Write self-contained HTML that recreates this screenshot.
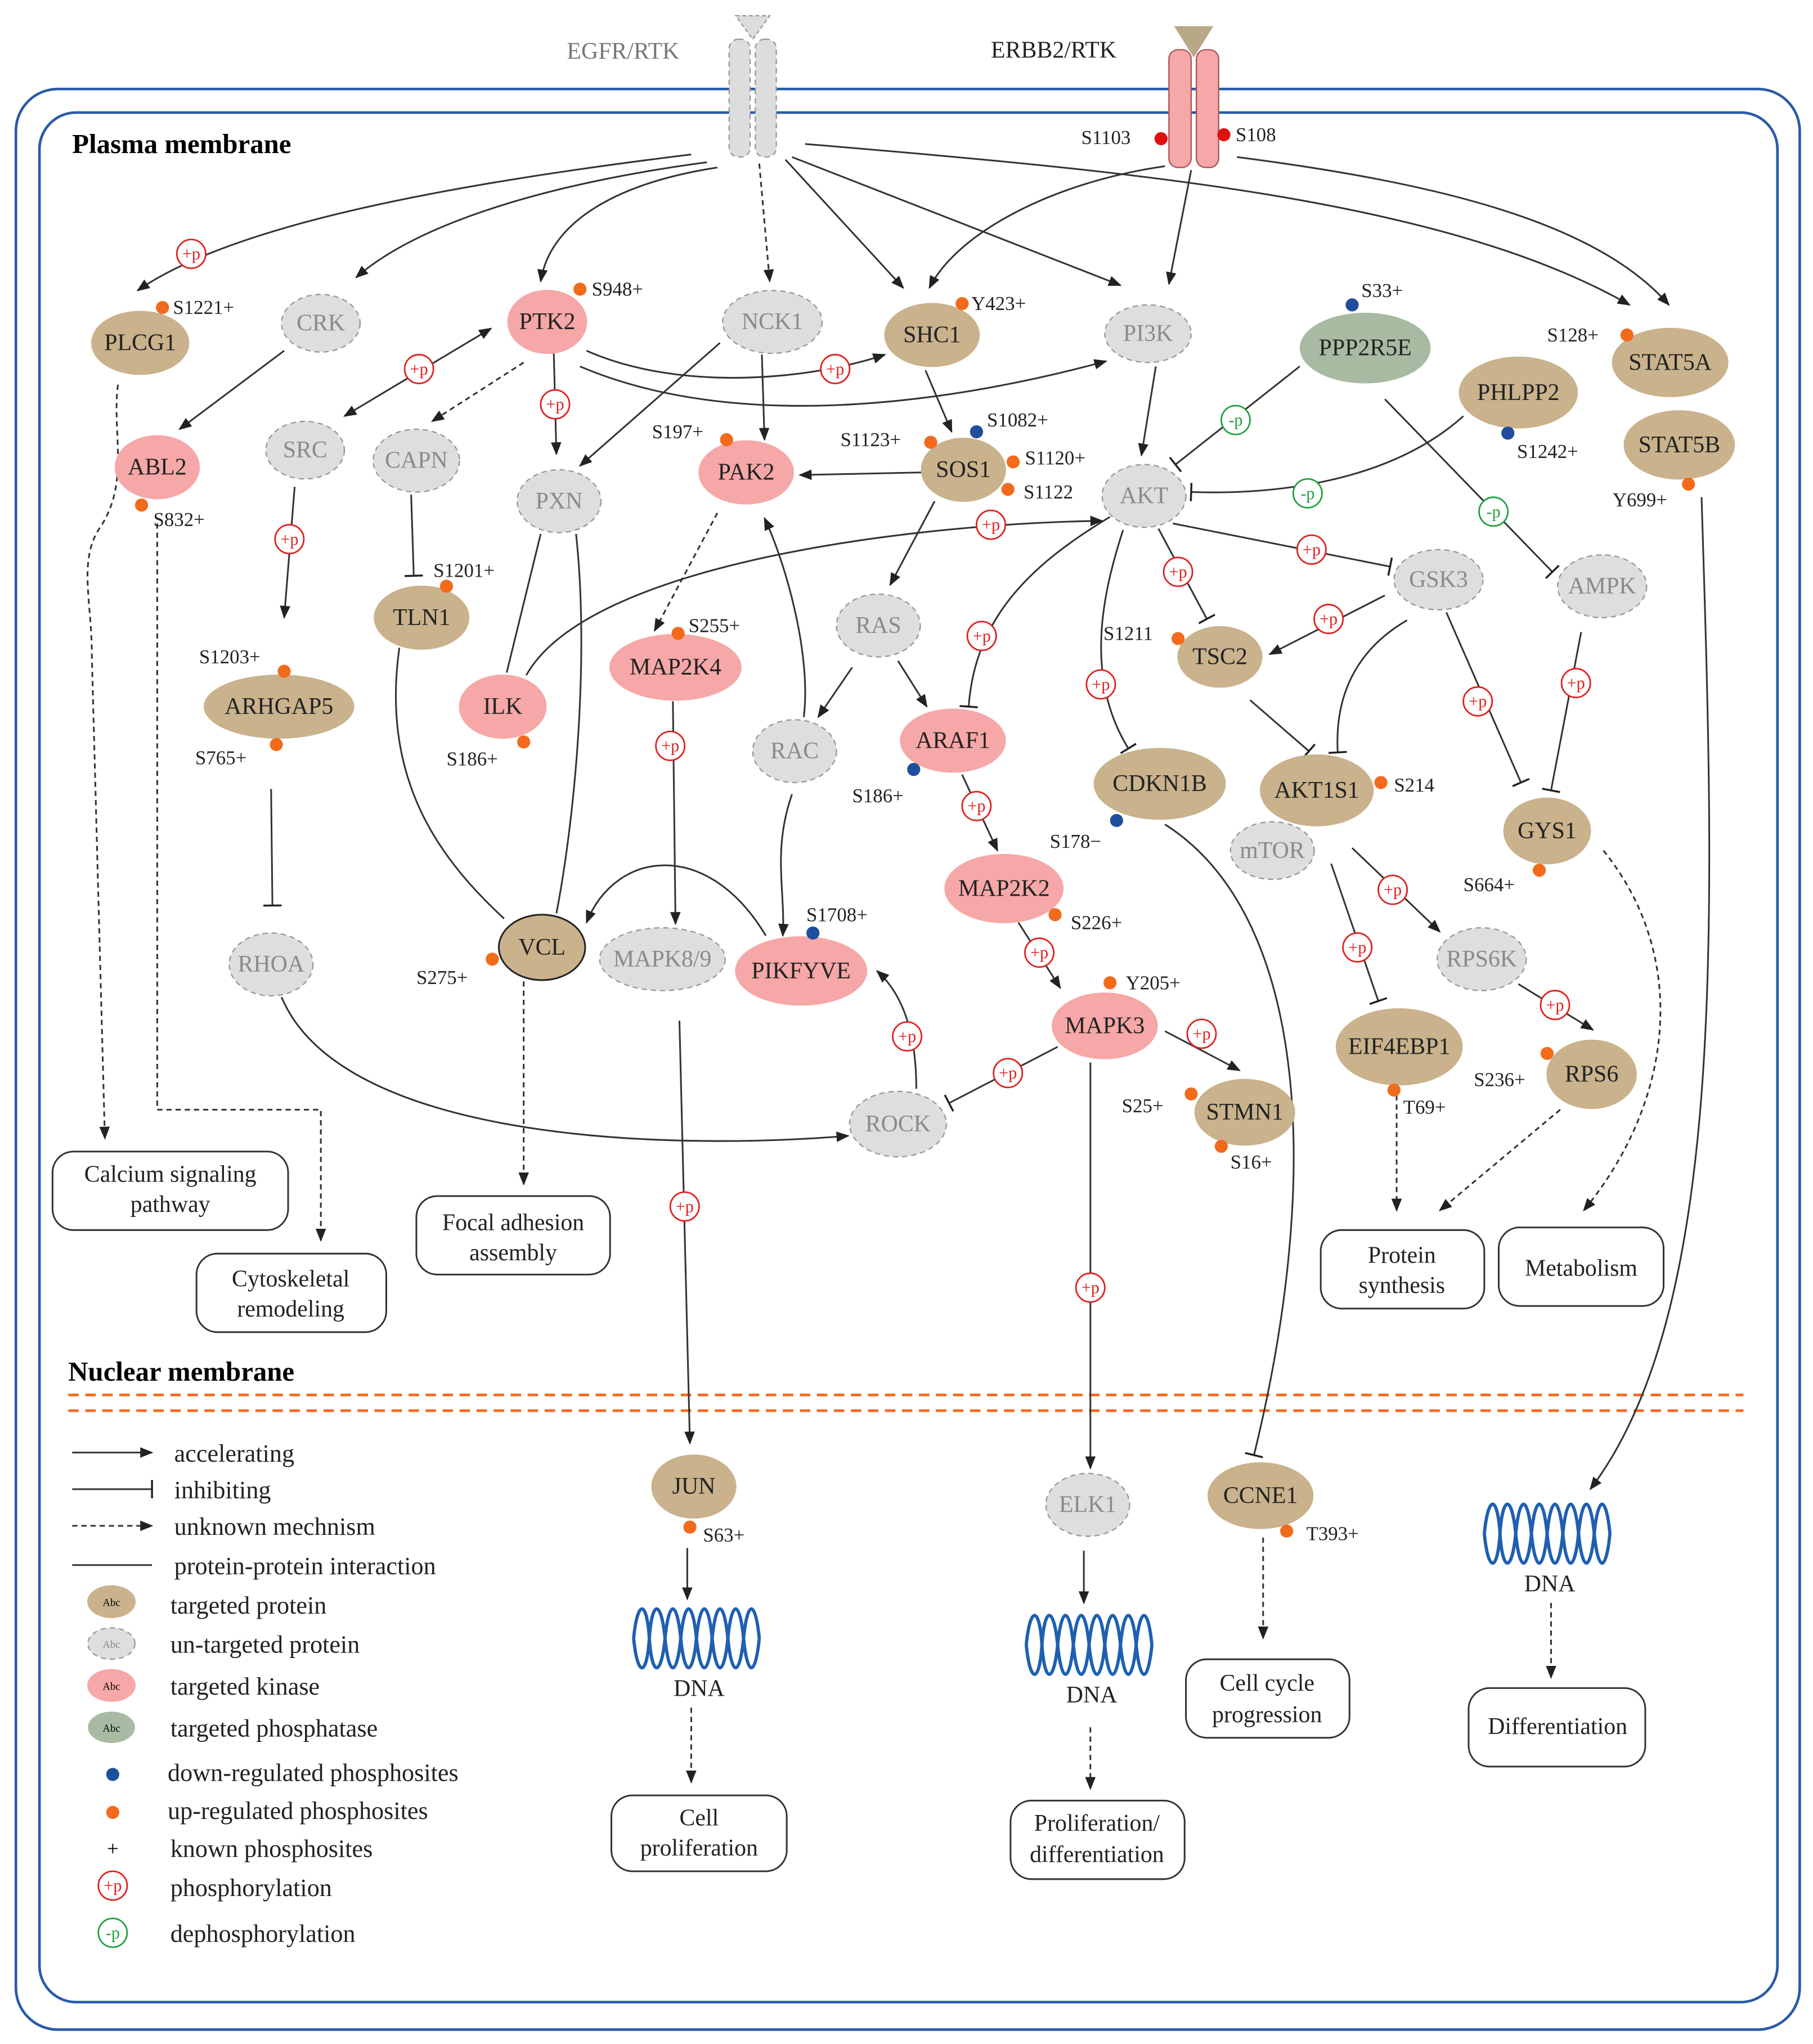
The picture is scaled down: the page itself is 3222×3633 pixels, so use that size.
<!DOCTYPE html>
<html><head><meta charset="utf-8"><style>
html,body{margin:0;padding:0;background:#fff}
svg{display:block}
text{font-family:"Liberation Serif",serif}
.n{font-family:"Liberation Serif",serif;font-size:18px;text-anchor:middle;dominant-baseline:central;fill:#222}
.g{fill:#8a8a8a}
.s{font-size:15px;fill:#222}
.e{fill:none;stroke:#333;stroke-width:1.3}
.d{stroke-dasharray:4 3}
.tan{fill:#c9b28c;stroke:#c9b28c}
.gr{fill:#dedede;stroke:#999;stroke-dasharray:4 3}
.pk{fill:#f6a7a7;stroke:#f6a7a7}
.box{fill:#fff;stroke:#333;stroke-width:1.3}
.bt{font-size:18px;text-anchor:middle;fill:#222}
.pc{fill:#fff;stroke:#e02020;stroke-width:1.2}
.pt{font-size:13px;fill:#e02020;text-anchor:middle;dominant-baseline:central}
.mc{fill:#fff;stroke:#20a040;stroke-width:1.2}
.mt{font-size:13px;fill:#20a040;text-anchor:middle;dominant-baseline:central}
.o{fill:#f26b1d}.b{fill:#1f4e9c}.r{fill:#e01010}
.lg{font-size:19px;fill:#222}
</style></head><body>
<svg width="3222" height="3633" viewBox="0 0 1385 1562" xmlns="http://www.w3.org/2000/svg">
<defs>
<marker id="a" markerWidth="10" markerHeight="10" refX="9" refY="5" orient="auto" markerUnits="userSpaceOnUse"><path d="M0,1 L10,5 L0,9 Z" fill="#222"/></marker>
<marker id="a2" markerWidth="10" markerHeight="10" refX="1" refY="5" orient="auto" markerUnits="userSpaceOnUse"><path d="M10,1 L0,5 L10,9 Z" fill="#222"/></marker>
<marker id="t" markerWidth="4" markerHeight="14" refX="2" refY="7" orient="auto" markerUnits="userSpaceOnUse"><path d="M2,0 L2,14" stroke="#222" stroke-width="1.5"/></marker>
</defs>
<rect x="0" y="0" width="1385" height="1562" fill="#fff"/>
<rect x="12" y="68" width="1363" height="1483" rx="32" fill="none" stroke="#2a5aa8" stroke-width="2"/>
<rect x="30" y="86" width="1328" height="1444" rx="28" fill="none" stroke="#2a5aa8" stroke-width="2"/>
<text x="55" y="117" style="font-size:21px;font-weight:bold">Plasma membrane</text>
<text x="52" y="1055" style="font-size:21px;font-weight:bold">Nuclear membrane</text>
<line x1="52" y1="1066" x2="1332" y2="1066" stroke="#f26b1d" stroke-width="2" stroke-dasharray="8 5"/>
<line x1="52" y1="1078" x2="1332" y2="1078" stroke="#f26b1d" stroke-width="2" stroke-dasharray="8 5"/>
<!-- receptors -->
<text x="433" y="45" style="font-size:18px;fill:#777">EGFR/RTK</text>
<text x="757" y="44" style="font-size:18px;fill:#222">ERBB2/RTK</text>
<path d="M562,12 L588,12 L575,30 Z" fill="#ddd" stroke="#999" stroke-dasharray="3 2"/>
<rect x="557" y="30" width="16" height="90" rx="7" fill="#ddd" stroke="#999" stroke-dasharray="4 3"/>
<rect x="577" y="30" width="16" height="90" rx="7" fill="#ddd" stroke="#999" stroke-dasharray="4 3"/>
<path d="M897,20 L927,20 L912,44 Z" fill="#b8a888"/>
<rect x="893" y="38" width="17" height="90" rx="7" fill="#f6a7a7" stroke="#a55"/>
<rect x="914" y="38" width="17" height="90" rx="7" fill="#f6a7a7" stroke="#a55"/>
<circle cx="887" cy="106" r="5" class="r"/><text x="826" y="110" class="s">S1103</text>
<circle cx="935" cy="103" r="5" class="r"/><text x="944" y="108" class="s">S108</text>

<!-- edges -->
<g class="e" marker-end="url(#a)">
<path d="M528,118 C350,140 180,170 105,222"/>
<path d="M540,124 C420,140 320,170 272,212"/>
<path d="M548,128 C470,140 420,170 413,215"/>
<path class="e d" d="M580,125 L588,215"/>
<path d="M600,122 L690,220"/>
<path d="M605,120 L856,218"/>
<path d="M615,110 C850,130 1100,150 1245,233"/>
<path d="M890,127 C800,140 730,180 710,220"/>
<path d="M910,130 L893,217"/>
<path d="M945,120 C1100,140 1220,170 1275,233"/>
<path class="e d" d="M400,277 L330,322"/>
<path d="M423,270 L425,347"/>
<path d="M448,268 C520,300 620,290 676,271"/>
<path d="M443,280 C560,330 720,310 845,276"/>
<path d="M217,268 L137,328"/>
<path d="M550,262 L443,356"/>
<path d="M582,271 L584,336"/>
<path d="M707,283 L727,330"/>
<path d="M883,280 L872,348"/>
<path d="M706,361 L611,363"/>
<path d="M714,383 L680,447"/>
<path class="e d" d="M120,400 L120,848 L245,848 L245,948"/>
<path class="e d" d="M90,294 C85,330 100,370 75,405 C60,430 70,460 70,500 L80,870"/>
<path d="M225,372 L217,472"/>
<path d="M402,516 C450,430 700,400 842,398"/>
<path class="e d" d="M548,392 L500,482"/>
<path d="M614,548 C620,500 600,430 584,396"/>
<path d="M651,510 L625,548"/>
<path d="M686,505 L708,540"/>
<path d="M215,762 C260,870 500,880 648,868"/>
<path d="M514,536 L516,706"/>
<path d="M585,715 C540,640 470,650 448,705"/>
<path d="M605,607 C590,650 600,680 598,715"/>
<path class="e d" d="M400,750 L400,905"/>
<path d="M519,780 L527,1103"/>
<path d="M735,592 L762,650"/>
<path d="M778,705 L810,755"/>
<path d="M890,788 L947,818"/>
<path d="M700,832 C700,790 690,760 670,742"/>
<path d="M833,812 L833,1122"/>
<path d="M1058,455 L970,500"/>
<path d="M1300,380 C1310,700 1320,1000 1215,1138"/>
<path d="M1033,648 L1100,712"/>
<path d="M1160,752 L1217,787"/>
<path class="e d" d="M1067,830 L1067,925"/>
<path class="e d" d="M1192,848 L1100,925"/>
<path class="e d" d="M1225,650 C1290,730 1280,840 1210,925"/>
<path d="M525,1183 L525,1222"/>
<path class="e d" d="M528,1305 L528,1362"/>
<path d="M828,1185 L828,1225"/>
<path class="e d" d="M833,1320 L833,1367"/>
<path class="e d" d="M965,1175 L965,1252"/>
<path class="e d" d="M1185,1225 L1185,1282"/>
</g>
<path class="e" d="M263,318 L375,251" marker-end="url(#a)" marker-start="url(#a2)"/>
<g class="e" marker-end="url(#t)">
<path d="M314,378 L316,440"/>
<path d="M848,395 C790,430 745,470 740,540"/>
<path d="M207,603 L208,692"/>
<path d="M808,800 L725,843"/>
<path d="M858,405 C840,460 830,520 862,572"/>
<path d="M885,404 L922,473"/>
<path d="M896,400 L1062,433"/>
<path d="M1118,318 C1060,370 970,378 910,376"/>
<path d="M993,280 L898,355"/>
<path d="M1058,305 L1186,437"/>
<path d="M1075,474 C1030,500 1020,540 1022,575"/>
<path d="M1105,468 L1162,598"/>
<path d="M1208,483 L1185,604"/>
<path d="M955,535 L1000,574"/>
<path d="M890,630 C1000,700 1010,900 958,1112"/>
<path d="M1017,660 L1053,765"/>
</g>
<g class="e">
<path d="M413,408 L387,514"/>
<path d="M440,408 C450,500 440,620 425,698"/>
<path d="M305,495 C290,600 340,660 385,702"/>
</g>

<!-- +p / -p markers -->
<g>
<circle cx="146" cy="194" r="11" class="pc"/><text x="146" y="194" class="pt">+p</text>
<circle cx="320" cy="282" r="11" class="pc"/><text x="320" y="282" class="pt">+p</text>
<circle cx="424" cy="309" r="11" class="pc"/><text x="424" y="309" class="pt">+p</text>
<circle cx="638" cy="282" r="11" class="pc"/><text x="638" y="282" class="pt">+p</text>
<circle cx="221" cy="412" r="11" class="pc"/><text x="221" y="412" class="pt">+p</text>
<circle cx="757" cy="401" r="11" class="pc"/><text x="757" y="401" class="pt">+p</text>
<circle cx="750" cy="486" r="11" class="pc"/><text x="750" y="486" class="pt">+p</text>
<circle cx="512" cy="570" r="11" class="pc"/><text x="512" y="570" class="pt">+p</text>
<circle cx="523" cy="922" r="11" class="pc"/><text x="523" y="922" class="pt">+p</text>
<circle cx="746" cy="616" r="11" class="pc"/><text x="746" y="616" class="pt">+p</text>
<circle cx="794" cy="728" r="11" class="pc"/><text x="794" y="728" class="pt">+p</text>
<circle cx="918" cy="790" r="11" class="pc"/><text x="918" y="790" class="pt">+p</text>
<circle cx="770" cy="820" r="11" class="pc"/><text x="770" y="820" class="pt">+p</text>
<circle cx="693" cy="792" r="11" class="pc"/><text x="693" y="792" class="pt">+p</text>
<circle cx="833" cy="984" r="11" class="pc"/><text x="833" y="984" class="pt">+p</text>
<circle cx="841" cy="523" r="11" class="pc"/><text x="841" y="523" class="pt">+p</text>
<circle cx="900" cy="437" r="11" class="pc"/><text x="900" y="437" class="pt">+p</text>
<circle cx="1002" cy="420" r="11" class="pc"/><text x="1002" y="420" class="pt">+p</text>
<circle cx="1015" cy="473" r="11" class="pc"/><text x="1015" y="473" class="pt">+p</text>
<circle cx="1129" cy="536" r="11" class="pc"/><text x="1129" y="536" class="pt">+p</text>
<circle cx="1204" cy="522" r="11" class="pc"/><text x="1204" y="522" class="pt">+p</text>
<circle cx="1064" cy="680" r="11" class="pc"/><text x="1064" y="680" class="pt">+p</text>
<circle cx="1037" cy="724" r="11" class="pc"/><text x="1037" y="724" class="pt">+p</text>
<circle cx="1188" cy="768" r="11" class="pc"/><text x="1188" y="768" class="pt">+p</text>
<circle cx="944" cy="321" r="11" class="mc"/><text x="944" y="321" class="mt">-p</text>
<circle cx="999" cy="377" r="11" class="mc"/><text x="999" y="377" class="mt">-p</text>
<circle cx="1141" cy="391" r="11" class="mc"/><text x="1141" y="391" class="mt">-p</text>
</g>

<!-- nodes -->
<ellipse cx="107" cy="262" rx="37" ry="24" class="tan"/><text x="107" y="262" class="n">PLCG1</text>
<ellipse cx="245" cy="247" rx="30" ry="22" class="gr"/><text x="245" y="247" class="n g">CRK</text>
<ellipse cx="418" cy="246" rx="30" ry="24" class="pk"/><text x="418" y="246" class="n">PTK2</text>
<ellipse cx="590" cy="246" rx="38" ry="24" class="gr"/><text x="590" y="246" class="n g">NCK1</text>
<ellipse cx="712" cy="256" rx="36" ry="24" class="tan"/><text x="712" y="256" class="n">SHC1</text>
<ellipse cx="877" cy="255" rx="33" ry="22" class="gr"/><text x="877" y="255" class="n g">PI3K</text>
<ellipse cx="1043" cy="266" rx="50" ry="27" fill="#a8bba2"/><text x="1043" y="266" class="n">PPP2R5E</text>
<ellipse cx="1160" cy="300" rx="45" ry="27" class="tan"/><text x="1160" y="300" class="n">PHLPP2</text>
<ellipse cx="1276" cy="277" rx="44" ry="26" class="tan"/><text x="1276" y="277" class="n">STAT5A</text>
<ellipse cx="1283" cy="340" rx="42" ry="26" class="tan"/><text x="1283" y="340" class="n">STAT5B</text>
<ellipse cx="120" cy="357" rx="32" ry="24" class="pk"/><text x="120" y="357" class="n">ABL2</text>
<ellipse cx="233" cy="344" rx="30" ry="22" class="gr"/><text x="233" y="344" class="n g">SRC</text>
<ellipse cx="318" cy="352" rx="33" ry="24" class="gr"/><text x="318" y="352" class="n g">CAPN</text>
<ellipse cx="427" cy="383" rx="32" ry="24" class="gr"/><text x="427" y="383" class="n g">PXN</text>
<ellipse cx="570" cy="361" rx="36" ry="24" class="pk"/><text x="570" y="361" class="n">PAK2</text>
<ellipse cx="736" cy="359" rx="32" ry="24" class="tan"/><text x="736" y="359" class="n">SOS1</text>
<ellipse cx="874" cy="379" rx="32" ry="24" class="gr"/><text x="874" y="379" class="n g">AKT</text>
<ellipse cx="322" cy="472" rx="36" ry="24" class="tan"/><text x="322" y="472" class="n">TLN1</text>
<ellipse cx="1099" cy="443" rx="34" ry="23" class="gr"/><text x="1099" y="443" class="n g">GSK3</text>
<ellipse cx="1224" cy="448" rx="34" ry="24" class="gr"/><text x="1224" y="448" class="n g">AMPK</text>
<ellipse cx="516" cy="510" rx="50" ry="25" class="pk"/><text x="516" y="510" class="n">MAP2K4</text>
<ellipse cx="671" cy="478" rx="32" ry="24" class="gr"/><text x="671" y="478" class="n g">RAS</text>
<ellipse cx="932" cy="502" rx="32" ry="23" class="tan"/><text x="932" y="502" class="n">TSC2</text>
<ellipse cx="213" cy="540" rx="57" ry="24" class="tan"/><text x="213" y="540" class="n">ARHGAP5</text>
<ellipse cx="384" cy="540" rx="33" ry="24" class="pk"/><text x="384" y="540" class="n">ILK</text>
<ellipse cx="607" cy="574" rx="32" ry="24" class="gr"/><text x="607" y="574" class="n g">RAC</text>
<ellipse cx="728" cy="566" rx="40" ry="24" class="pk"/><text x="728" y="566" class="n">ARAF1</text>
<ellipse cx="886" cy="599" rx="50" ry="27" class="tan"/><text x="886" y="599" class="n">CDKN1B</text>
<ellipse cx="972" cy="650" rx="32" ry="22" class="gr"/><text x="972" y="650" class="n g">mTOR</text>
<ellipse cx="1006" cy="604" rx="43" ry="27" class="tan"/><text x="1006" y="604" class="n">AKT1S1</text>
<ellipse cx="1182" cy="635" rx="33" ry="25" class="tan"/><text x="1182" y="635" class="n">GYS1</text>
<ellipse cx="767" cy="679" rx="45" ry="26" class="pk"/><text x="767" y="679" class="n">MAP2K2</text>
<ellipse cx="1132" cy="733" rx="34" ry="24" class="gr"/><text x="1132" y="733" class="n g">RPS6K</text>
<ellipse cx="207" cy="737" rx="32" ry="24" class="gr"/><text x="207" y="737" class="n g">RHOA</text>
<ellipse cx="414" cy="724" rx="33" ry="25" fill="#c9b28c" stroke="#222" stroke-width="1.3"/><text x="414" y="724" class="n">VCL</text>
<ellipse cx="506" cy="733" rx="48" ry="24" class="gr"/><text x="506" y="733" class="n g">MAPK8/9</text>
<ellipse cx="612" cy="742" rx="50" ry="26" class="pk"/><text x="612" y="742" class="n">PIKFYVE</text>
<ellipse cx="844" cy="784" rx="40" ry="25" class="pk"/><text x="844" y="784" class="n">MAPK3</text>
<ellipse cx="1069" cy="800" rx="48" ry="29" class="tan"/><text x="1069" y="800" class="n">EIF4EBP1</text>
<ellipse cx="1216" cy="821" rx="34" ry="26" class="tan"/><text x="1216" y="821" class="n">RPS6</text>
<ellipse cx="951" cy="850" rx="38" ry="25" class="tan"/><text x="951" y="850" class="n">STMN1</text>
<ellipse cx="686" cy="859" rx="37" ry="25" class="gr"/><text x="686" y="859" class="n g">ROCK</text>
<ellipse cx="530" cy="1136" rx="32" ry="24" class="tan"/><text x="530" y="1136" class="n">JUN</text>
<ellipse cx="831" cy="1150" rx="32" ry="24" class="gr"/><text x="831" y="1150" class="n g">ELK1</text>
<ellipse cx="963" cy="1143" rx="40" ry="25" class="tan"/><text x="963" y="1143" class="n">CCNE1</text>

<!-- phosphosites -->
<circle cx="124" cy="235" r="5" class="o"/><text x="132" y="240" class="s">S1221+</text>
<circle cx="443" cy="221" r="5" class="o"/><text x="452" y="226" class="s">S948+</text>
<circle cx="735" cy="232" r="5" class="o"/><text x="742" y="237" class="s">Y423+</text>
<circle cx="1033" cy="233" r="5" class="b"/><text x="1040" y="227" class="s">S33+</text>
<circle cx="1243" cy="256" r="5" class="o"/><text x="1182" y="261" class="s">S128+</text>
<circle cx="1152" cy="331" r="5" class="b"/><text x="1159" y="350" class="s">S1242+</text>
<circle cx="1290" cy="370" r="5" class="o"/><text x="1232" y="387" class="s">Y699+</text>
<circle cx="108" cy="386" r="5" class="o"/><text x="117" y="402" class="s">S832+</text>
<circle cx="555" cy="336" r="5" class="o"/><text x="498" y="335" class="s">S197+</text>
<circle cx="746" cy="330" r="5" class="b"/><text x="754" y="326" class="s">S1082+</text>
<circle cx="711" cy="338" r="5" class="o"/><text x="642" y="341" class="s">S1123+</text>
<circle cx="774" cy="353" r="5" class="o"/><text x="783" y="355" class="s">S1120+</text>
<circle cx="770" cy="374" r="5" class="o"/><text x="782" y="381" class="s">S1122</text>
<circle cx="341" cy="448" r="5" class="o"/><text x="331" y="441" class="s">S1201+</text>
<circle cx="518" cy="484" r="5" class="o"/><text x="526" y="483" class="s">S255+</text>
<circle cx="217" cy="513" r="5" class="o"/><text x="152" y="507" class="s">S1203+</text>
<circle cx="211" cy="569" r="5" class="o"/><text x="149" y="584" class="s">S765+</text>
<circle cx="400" cy="567" r="5" class="o"/><text x="341" y="585" class="s">S186+</text>
<circle cx="698" cy="588" r="5" class="b"/><text x="651" y="613" class="s">S186+</text>
<circle cx="900" cy="488" r="5" class="o"/><text x="843" y="489" class="s">S1211</text>
<circle cx="853" cy="627" r="5" class="b"/><text x="802" y="648" class="s">S178−</text>
<circle cx="1055" cy="598" r="5" class="o"/><text x="1065" y="605" class="s">S214</text>
<circle cx="1176" cy="665" r="5" class="o"/><text x="1118" y="681" class="s">S664+</text>
<circle cx="806" cy="699" r="5" class="o"/><text x="818" y="710" class="s">S226+</text>
<circle cx="376" cy="733" r="5" class="o"/><text x="318" y="752" class="s">S275+</text>
<circle cx="621" cy="713" r="5" class="b"/><text x="616" y="704" class="s">S1708+</text>
<circle cx="848" cy="751" r="5" class="o"/><text x="860" y="756" class="s">Y205+</text>
<circle cx="1065" cy="833" r="5" class="o"/><text x="1072" y="851" class="s">T69+</text>
<circle cx="1182" cy="805" r="5" class="o"/><text x="1126" y="830" class="s">S236+</text>
<circle cx="910" cy="836" r="5" class="o"/><text x="857" y="850" class="s">S25+</text>
<circle cx="933" cy="876" r="5" class="o"/><text x="940" y="893" class="s">S16+</text>
<circle cx="527" cy="1167" r="5" class="o"/><text x="537" y="1178" class="s">S63+</text>
<circle cx="983" cy="1170" r="5" class="o"/><text x="998" y="1177" class="s">T393+</text>

<!-- outcome boxes -->
<rect x="40" y="880" width="180" height="60" rx="16" class="box"/><text x="130" y="903" class="bt">Calcium signaling</text><text x="130" y="926" class="bt">pathway</text>
<rect x="150" y="958" width="145" height="60" rx="16" class="box"/><text x="222" y="983" class="bt">Cytoskeletal</text><text x="222" y="1006" class="bt">remodeling</text>
<rect x="318" y="914" width="148" height="60" rx="16" class="box"/><text x="392" y="940" class="bt">Focal adhesion</text><text x="392" y="963" class="bt">assembly</text>
<rect x="1009" y="940" width="125" height="60" rx="16" class="box"/><text x="1071" y="965" class="bt">Protein</text><text x="1071" y="988" class="bt">synthesis</text>
<rect x="1145" y="938" width="126" height="60" rx="16" class="box"/><text x="1208" y="975" class="bt">Metabolism</text>
<rect x="467" y="1372" width="134" height="58" rx="16" class="box"/><text x="534" y="1395" class="bt">Cell</text><text x="534" y="1418" class="bt">proliferation</text>
<rect x="772" y="1376" width="133" height="60" rx="16" class="box"/><text x="838" y="1399" class="bt">Proliferation/</text><text x="838" y="1423" class="bt">differentiation</text>
<rect x="906" y="1268" width="125" height="60" rx="16" class="box"/><text x="968" y="1292" class="bt">Cell cycle</text><text x="968" y="1316" class="bt">progression</text>
<rect x="1122" y="1290" width="135" height="60" rx="16" class="box"/><text x="1190" y="1325" class="bt">Differentiation</text>

<!-- DNA -->
<g fill="none" stroke="#1f5fb0" stroke-width="2.5">
<path d="M484,1252 c3,-30 10,-30 12,0 s9,30 12,0 s9,-30 12,0 s9,30 12,0 s9,-30 12,0 s9,30 12,0 s9,-30 12,0 s9,30 12,0"/>
<path d="M484,1252 c3,30 10,30 12,0 s9,-30 12,0 s9,30 12,0 s9,-30 12,0 s9,30 12,0 s9,-30 12,0 s9,30 12,0 s9,-30 12,0"/>
<path d="M784,1257 c3,-30 10,-30 12,0 s9,30 12,0 s9,-30 12,0 s9,30 12,0 s9,-30 12,0 s9,30 12,0 s9,-30 12,0 s9,30 12,0"/>
<path d="M784,1257 c3,30 10,30 12,0 s9,-30 12,0 s9,30 12,0 s9,-30 12,0 s9,30 12,0 s9,-30 12,0 s9,30 12,0 s9,-30 12,0"/>
<path d="M1134,1172 c3,-30 10,-30 12,0 s9,30 12,0 s9,-30 12,0 s9,30 12,0 s9,-30 12,0 s9,30 12,0 s9,-30 12,0 s9,30 12,0"/>
<path d="M1134,1172 c3,30 10,30 12,0 s9,-30 12,0 s9,30 12,0 s9,-30 12,0 s9,30 12,0 s9,-30 12,0 s9,30 12,0 s9,-30 12,0"/>
</g>
<text x="534" y="1296" class="bt">DNA</text>
<text x="834" y="1301" class="bt">DNA</text>
<text x="1184" y="1216" class="bt">DNA</text>

<!-- legend -->
<line x1="55" y1="1110" x2="116" y2="1110" class="e" marker-end="url(#a)"/><text x="133" y="1117" class="lg">accelerating</text>
<line x1="55" y1="1138" x2="116" y2="1138" class="e" marker-end="url(#t)"/><text x="133" y="1145" class="lg">inhibiting</text>
<line x1="55" y1="1166" x2="116" y2="1166" class="e d" marker-end="url(#a)"/><text x="133" y="1173" class="lg">unknown mechnism</text>
<line x1="55" y1="1196" x2="116" y2="1196" class="e"/><text x="133" y="1203" class="lg">protein-protein interaction</text>
<ellipse cx="85" cy="1224" rx="18" ry="12" class="tan"/><text x="85" y="1225" style="font-size:8px;text-anchor:middle;dominant-baseline:central">Abc</text><text x="130" y="1233" class="lg">targeted protein</text>
<ellipse cx="85" cy="1256" rx="18" ry="12" class="gr"/><text x="85" y="1257" style="font-size:8px;text-anchor:middle;dominant-baseline:central;fill:#888">Abc</text><text x="130" y="1263" class="lg">un-targeted protein</text>
<ellipse cx="85" cy="1288" rx="18" ry="12" class="pk"/><text x="85" y="1289" style="font-size:8px;text-anchor:middle;dominant-baseline:central">Abc</text><text x="130" y="1295" class="lg">targeted kinase</text>
<ellipse cx="85" cy="1320" rx="18" ry="12" fill="#a8bba2"/><text x="85" y="1321" style="font-size:8px;text-anchor:middle;dominant-baseline:central">Abc</text><text x="130" y="1327" class="lg">targeted phosphatase</text>
<circle cx="86" cy="1356" r="5" class="b"/><text x="128" y="1361" class="lg">down-regulated phosphosites</text>
<circle cx="86" cy="1385" r="5" class="o"/><text x="128" y="1390" class="lg">up-regulated phosphosites</text>
<text x="86" y="1418" style="font-size:16px;text-anchor:middle">+</text><text x="130" y="1419" class="lg">known phosphosites</text>
<circle cx="86" cy="1441" r="11" class="pc"/><text x="86" y="1441" class="pt">+p</text><text x="130" y="1449" class="lg">phosphorylation</text>
<circle cx="86" cy="1477" r="11" class="mc"/><text x="86" y="1477" class="mt">-p</text><text x="130" y="1484" class="lg">dephosphorylation</text>
</svg>
</body></html>
